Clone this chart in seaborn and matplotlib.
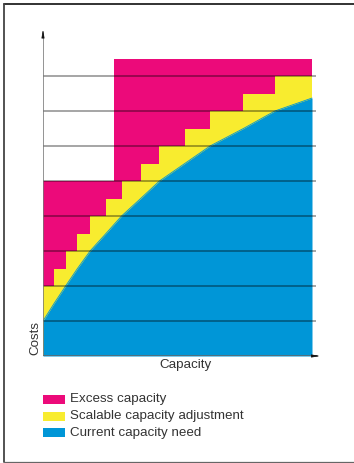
import numpy as np
import pandas as pd
import matplotlib
matplotlib.use("Agg")
import matplotlib.pyplot as plt
from matplotlib.lines import Line2D
from matplotlib.patches import Rectangle
import seaborn as sns

# Capacity positions (0-10 scale) and the current capacity need at each one
capacity = [0.0, 0.41, 0.84, 1.28, 1.75, 2.34, 2.92, 3.63, 4.33, 5.27, 6.21, 7.45, 8.62, 10.0]
need = [1.0, 1.5, 2.0, 2.5, 3.0, 3.5, 4.0, 4.5, 5.0, 5.5, 6.0, 6.5, 7.0, 7.37]

# Scalable capacity: each step sits one cost unit above the need where it starts
step_margin = 1.0

# Fixed (excess) capacity blocks: start positions and levels
excess_x = [0.0, 2.64, 10.0]
excess_level = [5.0, 8.5]

gridlines = [1, 2, 3, 4, 5, 6, 7, 8]

legend_labels = ["Excess capacity", "Scalable capacity adjustment", "Current capacity need"]

MAGENTA = "#EC0A7A"
YELLOW = "#F8EC2F"
BLUE = "#0096D7"
TEXT = "#333333"

sns.set_theme(style="white")
plt.rcParams["font.family"] = ["Liberation Sans", "DejaVu Sans"]

W, H = 354, 463
fig = plt.figure(figsize=(W / 100, H / 100), dpi=100)


def fx(px):
    return px / W


def fy(py):
    return 1 - py / H


# axes placed so that 0..10 capacity spans the plot area and 1 cost unit = 35 px
x_left, px_per_x = 43, 26.9
y_base, px_per_y = 356, 35.0
xmax, ymax = 10.45, 9.4
ax = fig.add_axes([fx(x_left), fy(y_base), px_per_x * xmax / W, px_per_y * ymax / H])
ax.set_xlim(0, xmax)
ax.set_ylim(0, ymax)
ax.set_axis_off()

df = pd.DataFrame({"capacity": capacity, "need": need})
df["step"] = df["need"] + step_margin

# excess capacity
ex_levels = excess_level + [excess_level[-1]]
ax.fill_between(excess_x, 0, ex_levels, step="post", color=MAGENTA, lw=0)

# scalable adjustment staircase
ax.fill_between(df["capacity"], 0, df["step"], step="post", color=YELLOW, lw=0)
ax.fill_between(df["capacity"].iloc[-2:], 0, df["step"].iloc[-2].repeat(2), color=YELLOW, lw=0)

# current need
ax.fill_between(df["capacity"], 0, df["need"], color=BLUE, lw=0)
sns.lineplot(data=df, x="capacity", y="need", ax=ax, color=BLUE, lw=0.6, sort=False)

# horizontal cost levels
ax.hlines(gridlines, 0, 10.15, color="black", alpha=0.45, lw=1.1, zorder=5)

# axis lines with small arrowheads
ax.plot([0, 0], [0, 9.2], color="#777777", lw=1.1, zorder=6, solid_capstyle="butt")
ax.plot([0, 10.2], [0, 0], color="#666666", lw=1.1, zorder=6, solid_capstyle="butt")
head = "-|>,head_length=0.4,head_width=0.07"
ax.annotate("", xy=(0, 9.33), xytext=(0, 9.1),
            arrowprops=dict(arrowstyle=head, color="#111111", lw=0.5, shrinkA=0, shrinkB=0), zorder=7)
ax.annotate("", xy=(10.3, 0), xytext=(10.0, 0),
            arrowprops=dict(arrowstyle=head, color="#111111", lw=0.5, shrinkA=0, shrinkB=0), zorder=7)

fig.text(fx(185.7), fy(365), "Capacity", ha="center", va="center", fontsize=9.6, color=TEXT)
fig.text(fx(35), fy(338), "Costs", ha="center", va="center", rotation=90, fontsize=9.6, color=TEXT)

# legend
colors = [MAGENTA, YELLOW, BLUE]
rows = [399, 416, 432.7]
for lab, col, ry in zip(legend_labels, colors, rows):
    fig.add_artist(Rectangle((fx(43.3), fy(ry + 4.5)), fx(21.7), 9 / H,
                             transform=fig.transFigure, color=col, lw=0))
    fig.text(fx(70), fy(ry), lab, ha="left", va="center", fontsize=9.6, color=TEXT)

# frame around the figure
fig.add_artist(Line2D([fx(4.3), fx(354)], [fy(4.2), fy(4.2)], transform=fig.transFigure,
                      color="#222222", lw=1.3))
fig.add_artist(Line2D([fx(4.3), fx(4.3)], [fy(4.2), fy(462.3)], transform=fig.transFigure,
                      color="#444444", lw=1.3))
fig.add_artist(Line2D([fx(4.3), fx(354)], [fy(462.3), fy(462.3)], transform=fig.transFigure,
                      color="#666666", lw=0.9))

fig.savefig("out.png", dpi=100)
